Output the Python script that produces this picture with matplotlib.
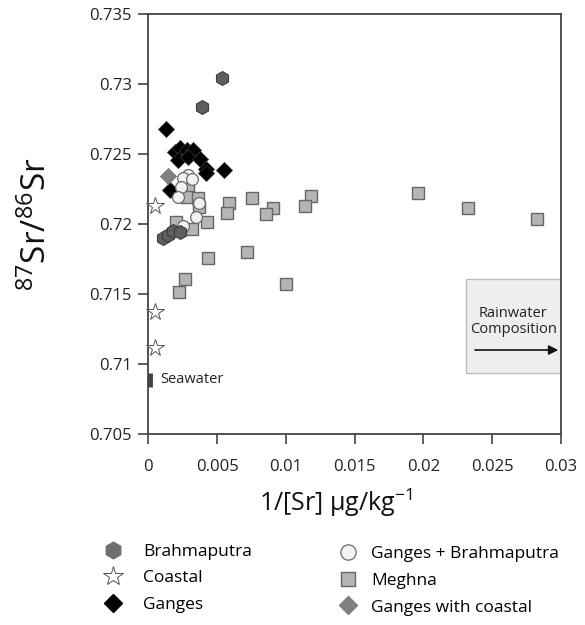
import matplotlib
matplotlib.use("Agg")
import matplotlib.pyplot as plt
from matplotlib.patches import Rectangle
from matplotlib.lines import Line2D

plt.rcParams['font.family'] = ['Open Sans', 'DejaVu Sans']
plt.rcParams['mathtext.fontset'] = 'custom'
plt.rcParams['mathtext.rm'] = 'Open Sans'
plt.rcParams['mathtext.it'] = 'Open Sans'

# ---- data ----
brahma_x = [0.00535, 0.0039, 0.00109, 0.00145, 0.00182, 0.0023]
brahma_y = [0.73045, 0.72838, 0.7190, 0.71924, 0.71952, 0.71947]

coastal_x = [0.0005, 0.0005, 0.0005]
coastal_y = [0.72131, 0.71371, 0.71119]

ganges_x = [0.00132, 0.00194, 0.0023, 0.00279, 0.00327, 0.00218, 0.00291,
            0.00376, 0.00417, 0.00417, 0.00552, 0.00158]
ganges_y = [0.72684, 0.72519, 0.72543, 0.72531, 0.72531, 0.72459, 0.72483,
            0.72464, 0.72393, 0.72364, 0.72388, 0.72245]

gc_x = [0.00145]
gc_y = [0.72345]

gb_x = [0.00291, 0.0025, 0.00315, 0.00235, 0.00218, 0.00371, 0.00347, 0.00254]
gb_y = [0.72352, 0.72329, 0.72321, 0.72269, 0.72197, 0.72154, 0.7205, 0.7199]

meghna_x = [0.00291, 0.00281, 0.00363, 0.00372, 0.00198, 0.00315, 0.00424,
            0.0059, 0.00574, 0.00751, 0.00908, 0.00855, 0.01185, 0.01137,
            0.01962, 0.02326, 0.02823, 0.00436, 0.00715, 0.00267, 0.00225,
            0.00999]
meghna_y = [0.72252, 0.72195, 0.72186, 0.72124, 0.72016, 0.71969, 0.72016,
            0.72154, 0.72084, 0.72186, 0.72114, 0.72074, 0.72199, 0.72131,
            0.72221, 0.72114, 0.72036, 0.71756, 0.718, 0.71607, 0.71514,
            0.71571]

seawater_x = 0.0001
seawater_y = [0.7084, 0.7094]

rain_box_x = [0.02307, 0.03]
rain_box_y = [0.70936, 0.71607]
rain_arrow_x = [0.02375, 0.0298]
rain_arrow_y = 0.71102

xticks = [0, 0.005, 0.01, 0.015, 0.02, 0.025, 0.03]
xticklabels = ['0', '0.005', '0.01', '0.015', '0.02', '0.025', '0.03']
yticks = [0.705, 0.71, 0.715, 0.72, 0.725, 0.73, 0.735]
yticklabels = ['0.705', '0.71', '0.715', '0.72', '0.725', '0.73', '0.735']

# ---- figure ----
fig = plt.figure(figsize=(5.85, 6.25), dpi=100)
ax = fig.add_axes([0.2535, 0.3051, 0.7055, 0.672])

spine_c = '#444444'
for s in ax.spines.values():
    s.set_color(spine_c)
    s.set_linewidth(1.3)

ax.set_xlim(0, 0.03)
ax.set_ylim(0.705, 0.735)
ax.set_xticks(xticks)
ax.set_xticklabels(xticklabels)
ax.set_yticks(yticks)
ax.set_yticklabels(yticklabels)
ax.tick_params(axis='both', direction='out', length=7, width=1.2, color=spine_c,
               labelsize=12, labelcolor='#222222')
ax.tick_params(axis='y', pad=5)
ax.tick_params(axis='x', pad=11)

# rainwater box
ax.add_patch(Rectangle((rain_box_x[0], rain_box_y[0]), rain_box_x[1] - rain_box_x[0],
                       rain_box_y[1] - rain_box_y[0], facecolor='#eeeeee',
                       edgecolor='#bbbbbb', linewidth=1.0, zorder=1))
ax.text((rain_box_x[0] + rain_box_x[1]) / 2, 0.71305, 'Rainwater\nComposition',
        ha='center', va='center', fontsize=10.5, color='#222222', linespacing=1.15,
        zorder=2)
ax.annotate('', xy=(rain_arrow_x[1], rain_arrow_y), xytext=(rain_arrow_x[0], rain_arrow_y),
            arrowprops=dict(arrowstyle='-|>', color='#111111', lw=1.2,
                            mutation_scale=14, shrinkA=0, shrinkB=0), zorder=2)

# seawater
ax.plot([seawater_x, seawater_x], seawater_y, color='#444444', lw=3.5,
        solid_capstyle='butt', zorder=3, clip_on=False)
ax.text(0.0009, 0.70890, 'Seawater', ha='left', va='center', fontsize=10.5,
        color='#222222')

# points
ax.plot(meghna_x, meghna_y, ls='none', marker='s', ms=8, mfc='#b5b5b5',
        mec='#666666', mew=1.0, zorder=4)
ax.plot(ganges_x, ganges_y, ls='none', marker='D', ms=8, mfc='#000000',
        mec='#333333', mew=0.6, zorder=5)
ax.plot(gc_x, gc_y, ls='none', marker='D', ms=8, mfc='#808080',
        mec='#707070', mew=0.6, zorder=5)
ax.plot(gb_x, gb_y, ls='none', marker='o', ms=8.5, mfc='#f2f2f2',
        mec='#6a6a6a', mew=0.9, zorder=6)
ax.plot(brahma_x, brahma_y, ls='none', marker='h', ms=10, mfc='#5e5e5e',
        mec='#3c3c3c', mew=0.8, zorder=7)
ax.plot(coastal_x, coastal_y, ls='none', marker='*', ms=13, mfc='#ffffff',
        mec='#555555', mew=0.7, zorder=7, clip_on=False)

# labels
ax.set_ylabel('$^{87}$Sr/$^{86}$Sr', fontsize=24, color='#111111')
ax.yaxis.set_label_coords(-0.228, 0.5)
ax.set_xlabel('1/[Sr] µg/kg$^{-1}$', fontsize=18, color='#111111')
ax.xaxis.set_label_coords(0.455, -0.125)

# legends
h_brahma = Line2D([], [], ls='none', marker='h', ms=12, mfc='#6e6e6e', mec='#6e6e6e')
h_coast = Line2D([], [], ls='none', marker='*', ms=15, mfc='#ffffff', mec='#555555', mew=0.7)
h_gang = Line2D([], [], ls='none', marker='D', ms=9, mfc='#000000', mec='#000000')
h_gb = Line2D([], [], ls='none', marker='o', ms=11, mfc='#f2f2f2', mec='#6a6a6a', mew=0.9)
h_meg = Line2D([], [], ls='none', marker='s', ms=10, mfc='#b5b5b5', mec='#666666', mew=1.0)
h_gc = Line2D([], [], ls='none', marker='D', ms=9, mfc='#808080', mec='#808080')

leg1 = fig.legend([h_brahma, h_coast, h_gang], ['Brahmaputra', 'Coastal', 'Ganges'],
                  loc='upper left', bbox_to_anchor=(0.164, 0.13), frameon=False,
                  fontsize=12.5, handletextpad=0.72, labelspacing=0.6,
                  borderaxespad=0, borderpad=0)
leg2 = fig.legend([h_gb, h_meg, h_gc],
                  ['Ganges + Brahmaputra', 'Meghna', 'Ganges with coastal'],
                  loc='upper left', bbox_to_anchor=(0.566, 0.126), frameon=False,
                  fontsize=12.5, handletextpad=0.3, labelspacing=0.6,
                  borderaxespad=0, borderpad=0)

fig.savefig('out.png', dpi=100)
